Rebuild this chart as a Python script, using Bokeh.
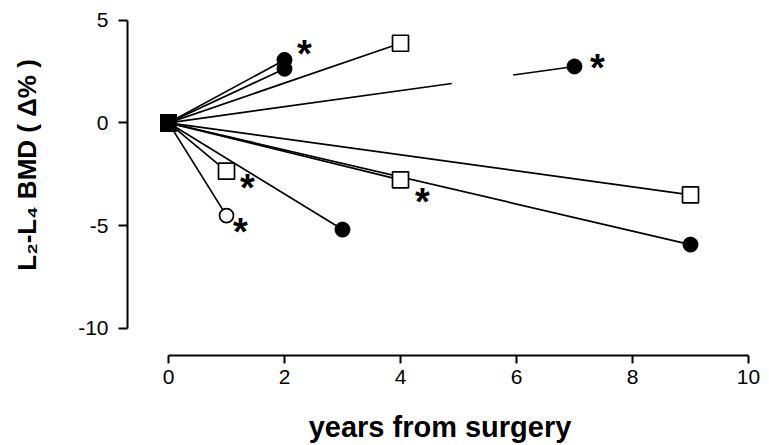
from bokeh.plotting import figure
from bokeh.models import ColumnDataSource, FixedTicker, Range1d
from bokeh.core.properties import value
from bokeh.embed import file_html
from bokeh.resources import INLINE

# Change in L2-L4 bone mineral density at the last follow-up of each patient;
# every patient starts from 0 % at the time of surgery.
years = [2, 2, 4, 7, 9, 9, 4, 3, 1, 1]
bmd_change = [3.06, 2.63, 3.87, 2.74, -3.50, -5.92, -2.77, -5.19, -2.35, -4.51]
marker_kind = ["filled_circle", "filled_circle", "open_square", "filled_circle",
               "open_square", "filled_circle", "open_square", "filled_circle",
               "open_square", "open_circle"]
significant = [True, False, False, True, False, False, True, False, True, True]
broken_line = [False, False, False, True, False, False, False, False, False, False]

x_ticks = [0, 2, 4, 6, 8, 10]
x_tick_labels = ["0", "2", "4", "6", "8", "10"]
y_ticks = [-10, -5, 0, 5]
y_tick_labels = ["-10", "-5", "0", "5"]

start_year = 0
start_change = 0

# screen offsets (px) of the significance asterisks, in the order of the starred points
star_dx = [20, 23, 22, 21, 14]
star_dy = [-10, -2, 18, 13, 12]

FONT = "Liberation Sans"
NBSP = "\u00a0"
n = len(years)

p = figure(width=769, height=445,
           x_range=Range1d(-0.707, 10.069), y_range=Range1d(-11.313, 5.462),
           output_backend="svg", toolbar_location=None,
           min_border_left=127, min_border_right=17,
           min_border_top=10, min_border_bottom=90)
p.outline_line_color = None
p.grid.visible = False
p.background_fill_color = "white"
p.border_fill_color = "white"

# axes: detached look through bounds
for ax in (p.xaxis[0], p.yaxis[0]):
    ax.axis_line_width = 2
    ax.axis_line_color = "black"
    ax.major_tick_line_width = 2
    ax.major_tick_line_color = "black"
    ax.minor_tick_line_color = None
    ax.major_tick_in = 0
    ax.major_label_text_font = FONT
    ax.major_label_text_font_size = "21px"
    ax.major_label_text_color = "black"
    ax.axis_label_text_font = FONT
    ax.axis_label_text_font_style = "bold"
    ax.axis_label_text_color = "black"

p.xaxis.bounds = (x_ticks[0], x_ticks[-1])
p.xaxis.ticker = FixedTicker(ticks=x_ticks)
p.xaxis.major_label_overrides = dict(zip(x_ticks, x_tick_labels))
p.xaxis.major_tick_out = 8
p.xaxis.major_label_standoff = 6
p.xaxis.axis_label = "years from surgery"
p.xaxis.axis_label_text_font_size = "29px"
p.xaxis.axis_label_standoff = 24

p.yaxis.bounds = (y_ticks[0], y_ticks[-1])
p.yaxis.ticker = FixedTicker(ticks=y_ticks)
p.yaxis.major_label_overrides = dict(zip(y_ticks, y_tick_labels))
p.yaxis.major_tick_out = 9
p.yaxis.major_label_standoff = 10
# leading no-break spaces lift the title a little above the frame centre
p.yaxis.axis_label = NBSP * 5 + "L\u2082-L\u2084 BMD ( \u0394% )"
p.yaxis.axis_label_text_font_size = "26px"
p.yaxis.axis_label_standoff = 33

# lines from surgery to last follow-up
solid = [i for i in range(n) if not broken_line[i]]
p.multi_line(xs=[[start_year, years[i]] for i in solid],
             ys=[[start_change, bmd_change[i]] for i in solid],
             line_color="black", line_width=1.7)
for i in range(n):
    if broken_line[i]:
        p.line([start_year, years[i]], [start_change, bmd_change[i]],
               line_color="black", line_width=1.7, line_dash="286 62 200")


def subset(kind):
    idx = [i for i in range(n) if marker_kind[i] == kind]
    return ColumnDataSource(dict(x=[years[i] for i in idx],
                                 y=[bmd_change[i] for i in idx]))


p.scatter("x", "y", source=subset("open_square"), marker="square", size=16,
          fill_color="white", line_color="black", line_width=1.7)
p.scatter("x", "y", source=subset("filled_circle"), marker="circle", size=15,
          fill_color="black", line_color="black")
p.scatter("x", "y", source=subset("open_circle"), marker="circle", size=14,
          fill_color="white", line_color="black", line_width=1.7)

# baseline at surgery
p.scatter(x=[start_year] * n, y=[start_change] * n, marker="square", size=16,
          fill_color="black", line_color="black")

# significance asterisks
starred = [i for i in range(n) if significant[i]]
star_src = ColumnDataSource(dict(x=[years[i] for i in starred],
                                 y=[bmd_change[i] for i in starred],
                                 dx=star_dx, dy=[d + 4 for d in star_dy],
                                 t=["*"] * len(starred)))
p.text("x", "y", text="t", source=star_src, x_offset="dx", y_offset="dy",
       text_font=value(FONT), text_font_style="bold", text_font_size="38px",
       text_align="center", text_baseline="middle", text_color="black")

open("out.html", "w").write(file_html(p, INLINE))
